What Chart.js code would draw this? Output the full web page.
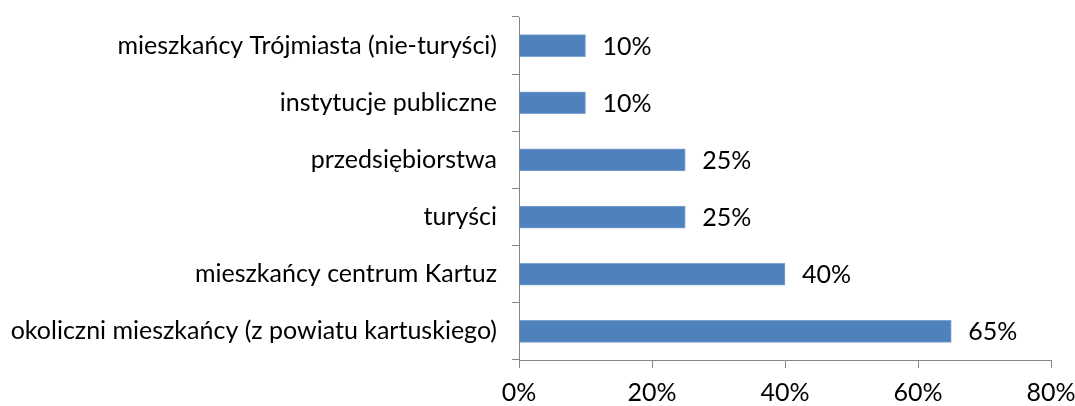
<!DOCTYPE html>
<html><head><meta charset="utf-8">
<script src="https://cdn.jsdelivr.net/npm/chart.js@4"></script>
<style>html,body{margin:0;padding:0;background:#fff}#wrap{width:1075px;height:406px}</style>
</head><body><div id="wrap"><canvas id="c" width="1075" height="406"></canvas></div>
<script>
const categories = ["mieszkańcy Trójmiasta (nie-turyści)", "instytucje publiczne", "przedsiębiorstwa", "turyści", "mieszkańcy centrum Kartuz", "okoliczni mieszkańcy (z powiatu kartuskiego)"];
const values = [0.10, 0.10, 0.25, 0.25, 0.40, 0.65];
const xTicks = [0, 0.2, 0.4, 0.6, 0.8];
const FONT = "Lato";
const FS = 25;
const labelPlugin = {
  id: 'vlabels',
  afterDatasetsDraw(chart) {
    const ctx = chart.ctx;
    const meta = chart.getDatasetMeta(0);
    ctx.save();
    ctx.font = FS + 'px ' + FONT;
    ctx.fillStyle = '#000';
    ctx.textBaseline = 'middle';
    ctx.textAlign = 'left';
    meta.data.forEach((bar, i) => {
      ctx.fillText(Math.round(values[i] * 100) + '%', bar.x + 17, bar.y + 1);
    });
    ctx.restore();
  }
};
new Chart(document.getElementById('c'), {
  type: 'bar',
  data: { labels: categories, datasets: [{ data: values, backgroundColor: '#4F81BD', borderColor: '#7FA3D0', borderWidth: 1, barThickness: 22 }] },
  options: {
    indexAxis: 'y', responsive: false, animation: false,
    layout: { padding: { top: 17, right: 24, left: 0, bottom: 0 } },
    plugins: { legend: { display: false }, tooltip: { enabled: false } },
    scales: {
      x: {
        min: 0, max: 0.8,
        afterBuildTicks(s) { s.ticks = xTicks.map(v => ({ value: v })); },
        afterFit(s) { s.height = 46; s.paddingRight = 0; s.paddingLeft = 0; },
        border: { color: '#868686', width: 1 },
        grid: { drawOnChartArea: false, tickLength: 8, color: '#868686' },
        ticks: { color: '#000', font: { family: FONT, size: FS }, padding: 10, callback: v => Math.round(v * 100) + '%' }
      },
      y: {
        afterFit(s) { s.width = 519; s.paddingTop = 0; s.paddingBottom = 0; },
        border: { color: '#868686', width: 1 },
        grid: { drawOnChartArea: false, tickLength: 7, color: '#868686', offset: true },
        ticks: { color: '#000', font: { family: FONT, size: FS }, padding: 15 }
      }
    }
  },
  plugins: [labelPlugin]
});
</script></body></html>
